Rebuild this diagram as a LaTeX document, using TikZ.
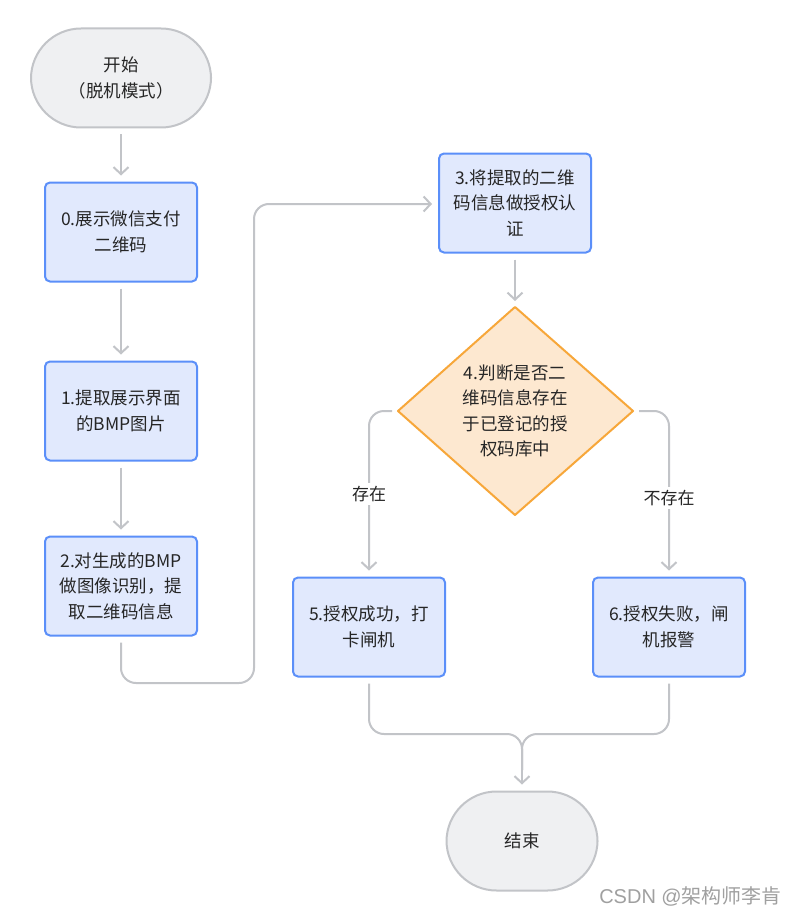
\documentclass[tikz,border=0pt]{standalone}
\usepackage{fontspec}
\setmainfont{Noto Sans CJK SC}
\newfontfamily\wmfont{Liberation Sans}
\newfontfamily\wmcjk{Noto Sans CJK SC}
\usetikzlibrary{arrows.meta}
\definecolor{boxfill}{HTML}{E1E9FD}
\definecolor{boxline}{HTML}{5B8FF9}
\definecolor{termfill}{HTML}{EFF0F2}
\definecolor{termline}{HTML}{C2C4C8}
\definecolor{dfill}{HTML}{FDE8D0}
\definecolor{dline}{HTML}{F7A73A}
\definecolor{conn}{HTML}{C2C4C8}
\definecolor{txt}{HTML}{262626}
\definecolor{wmc}{HTML}{A0A0A0}
\tikzset{
  every node/.style={font=\fontsize{17.5}{25.5}\selectfont, text=txt},
  stepbox/.style={draw=boxline, fill=boxfill, line width=2pt, rounded corners=5pt,
    minimum width=152pt, minimum height=99pt, align=center, inner sep=0pt},
  term/.style={draw=termline, fill=termfill, line width=2pt, rounded corners=50pt,
    minimum height=99pt, align=center, inner sep=0pt},
  link/.style={draw=conn, line width=2pt, rounded corners=15pt,
    -{Straight Barb[length=7pt,width=15pt]}, shorten >=6pt, shorten <=6pt},
  plain/.style={draw=conn, line width=2pt, rounded corners=15pt, shorten <=6pt},
  lbl/.style={font=\fontsize{17}{20}\selectfont}
}
\begin{document}
\begin{tikzpicture}[x=1pt,y=-1pt]
\useasboundingbox (0,0) rectangle (785,915);
\fill[white] (0,0) rectangle (785,915);
\node[term, minimum width=180pt] (start) at (121,78) {开始\\（脱机模式）};
\node[stepbox] (b0) at (121,232) {0.展示微信支付\\二维码};
\node[stepbox] (b1) at (121,411) {1.提取展示界面\\的BMP图片};
\node[stepbox] (b2) at (121,586) {2.对生成的BMP\\做图像识别，提\\取二维码信息};
\node[stepbox] (b3) at (515,203) {3.将提取的二维\\码信息做授权认\\证};
\draw[draw=dline, fill=dfill, line width=2pt, line join=round] (515,307) -- (633,411) -- (515,515) -- (398,411) -- cycle;
\node[align=center] (d) at (515,411) {4.判断是否二\\维码信息存在\\于已登记的授\\权码库中};
\coordinate (dt) at (515,307);
\coordinate (dl) at (398,411);
\coordinate (dr) at (633,411);
\node[stepbox] (b5) at (369,627) {5.授权成功，打\\卡闸机};
\node[stepbox] (b6) at (669,627) {6.授权失败，闸\\机报警};
\node[term, minimum width=151pt] (end) at (522,841) {结束};

\draw[link] (start) -- (b0);
\draw[link] (b0) -- (b1);
\draw[link] (b1) -- (b2);
\draw[link] (b2.south) -- (121,683) -- (254,683) -- (254,204) -- (b3.west |- 0,204);
\draw[link] (b3) -- (dt);
\draw[link] (dl) -- (369,411) -- (b5.north);
\draw[link] (dr) -- (669,411) -- (b6.north);
\node[lbl, fill=white, inner sep=3pt] (ly) at (369,494) {存在};
\node[lbl, fill=white, inner sep=3pt] (ln) at (669,498) {不存在};
\draw[plain] (b5.south) -- (369,734) -- (522,734) -- (522,770);
\draw[plain] (b6.south) -- (669,734) -- (522,734) -- (522,770);
\draw[link, shorten <=0pt] (522,760) -- (end.north);
\node[anchor=east, text=wmc, font=\fontsize{20}{22}\selectfont, inner sep=0pt] (wm) at (782,896) {\wmfont CSDN @\wmcjk 架构师李肯};
\end{tikzpicture}
\end{document}
